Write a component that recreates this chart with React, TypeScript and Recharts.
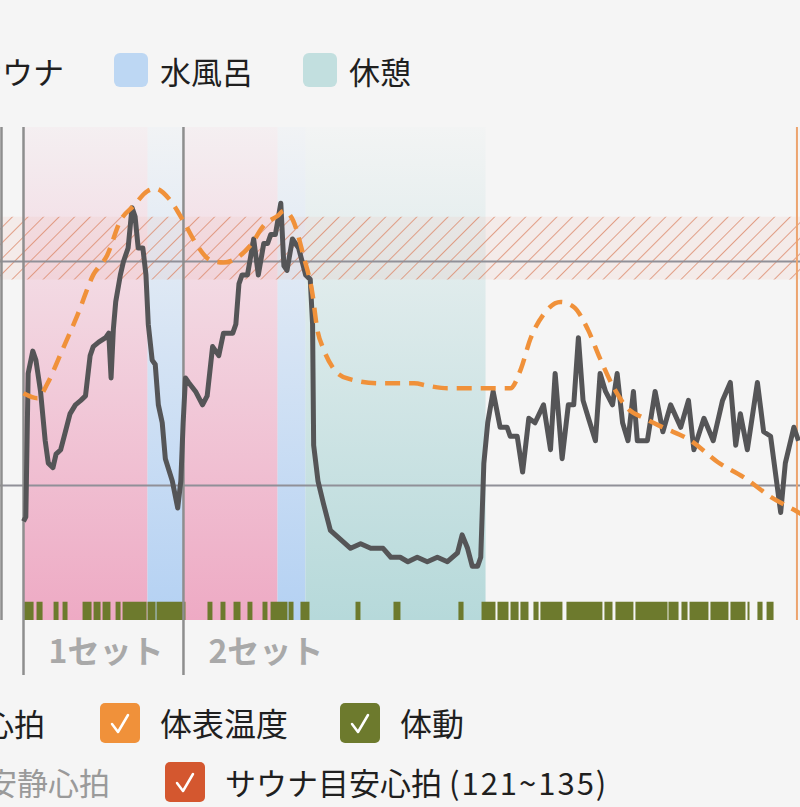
import React from 'react';
import { ComposedChart, Line, XAxis, YAxis, ReferenceArea, ReferenceLine } from 'recharts';

const FONT = "'Noto Sans CJK JP', 'Noto Sans', sans-serif";

// time in minutes from start of set 1
const phases = [
  { kind: 'sauna', start: 0, end: 8.0 },
  { kind: 'water', start: 8.0, end: 10.32 },
  { kind: 'sauna', start: 10.32, end: 16.39 },
  { kind: 'water', start: 16.39, end: 18.19 },
  { kind: 'rest', start: 18.19, end: 29.81 },
];

const setStarts = [0, 10.32];
const setLabels = ['1セット', '2セット'];
const prevMarker = -1.42;
const nowMarker = 49.9;

const gridLines = [75, 125];
const saunaTarget = [121, 135];

const heartRate: [number, number][] = [
  [0, 67], [0.15, 68], [0.3, 100], [0.6, 105], [0.8, 103], [1.1, 96], [1.4, 85], [1.6, 80],
  [1.9, 79], [2.1, 82], [2.4, 83], [2.7, 87], [3.0, 91], [3.35, 93], [3.7, 94], [4.0, 95],
  [4.3, 104], [4.5, 106], [4.85, 107], [5.3, 108], [5.5, 109], [5.65, 99], [5.8, 110],
  [5.95, 116], [6.25, 122], [6.45, 125], [6.75, 128], [7.0, 137], [7.2, 135], [7.4, 128],
  [7.7, 128], [7.9, 122], [8.05, 111], [8.3, 103], [8.5, 102], [8.7, 93], [8.95, 89],
  [9.15, 81], [9.6, 76], [9.95, 70], [10.15, 76], [10.3, 89], [10.45, 99], [10.65, 98],
  [11.1, 96], [11.55, 93], [11.85, 95], [12.2, 106], [12.6, 104], [12.9, 109], [13.5, 109],
  [13.7, 111], [13.9, 120], [14.1, 122], [14.45, 122], [14.85, 130], [15.15, 122],
  [15.5, 129], [15.75, 129], [15.95, 131], [16.25, 131], [16.6, 138], [16.8, 124],
  [17.0, 123], [17.35, 130], [17.75, 128], [18.2, 122], [18.5, 121], [18.65, 111],
  [18.72, 84], [19.0, 76], [19.35, 71], [19.8, 65], [20.45, 63], [21.1, 61], [21.75, 62],
  [22.4, 61], [23.2, 61], [23.7, 59], [24.3, 59], [24.8, 58], [25.4, 59], [26.05, 58],
  [26.7, 59], [27.35, 58], [28.0, 60], [28.3, 64], [28.65, 61], [28.95, 57], [29.3, 57],
  [29.5, 59], [29.7, 80], [29.95, 89], [30.3, 96], [30.75, 88], [31.2, 88], [31.4, 86],
  [31.85, 86], [32.2, 78], [32.6, 90], [33.0, 89], [33.55, 93], [34.0, 83], [34.3, 100],
  [34.75, 81], [35.15, 93], [35.5, 93], [35.8, 108], [36.1, 94], [36.45, 90], [36.9, 85],
  [37.2, 100], [37.55, 96], [38.0, 93], [38.3, 100], [38.65, 89], [39.0, 85], [39.35, 96],
  [39.6, 85], [40.25, 85], [40.75, 96], [41.25, 87], [41.75, 93], [42.4, 88], [42.9, 94],
  [43.25, 83], [43.9, 90], [44.5, 85], [45.1, 94], [45.6, 98], [45.95, 84], [46.25, 91],
  [46.7, 83], [47.35, 98], [47.75, 87], [48.2, 86], [48.85, 69], [49.15, 80], [49.7, 88],
  [50.0, 85],
];

const skinTemp: [number, number][] = [
  [0, 34.6], [0.9, 34.5], [1.55, 34.8], [2.4, 35.4], [3.5, 36.2], [4.5, 37.0], [5.4, 37.4],
  [6.25, 38.1], [7.1, 38.4], [8.0, 38.7], [8.5, 38.75], [9.5, 38.5], [10.3, 38.1],
  [11.2, 37.6], [12.05, 37.3], [12.9, 37.25], [13.8, 37.35], [14.65, 37.6], [15.5, 38.0],
  [16.4, 38.2], [16.8, 38.3], [17.4, 38.1], [18.05, 37.4], [18.65, 36.6], [18.95, 35.9],
  [19.35, 35.5], [20.0, 35.1], [20.9, 34.9], [23.0, 34.8], [25.2, 34.8], [26.1, 34.75],
  [27.35, 34.7], [29.5, 34.7], [30.8, 34.7], [31.4, 34.7], [32.1, 35.1], [32.7, 35.7],
  [33.55, 36.2], [34.65, 36.45], [35.5, 36.35], [36.4, 35.9], [37.2, 35.3], [38.1, 34.7],
  [38.95, 34.3], [40.0, 34.1], [41.3, 33.9], [43.0, 33.65], [44.8, 33.2], [46.45, 32.9],
  [48.2, 32.5], [49.9, 32.2], [51.0, 32.0],
];

// periods where body movement was detected [from, to]
const movement: [number, number][] = [
  [0, 0.65], [0.84, 1.23], [1.94, 2.26], [2.52, 2.84], [3.81, 4.39], [4.52, 4.97],
  [5.1, 5.61], [5.94, 6.26], [6.39, 7.94], [8.0, 8.52], [8.58, 10.45], [11.87, 12.19],
  [12.71, 13.03], [13.55, 14.0], [14.45, 14.77], [15.42, 15.74], [15.94, 17.03],
  [17.1, 17.42], [17.87, 18.45], [21.42, 21.74], [23.87, 24.32], [28.06, 28.39],
  [29.55, 30.45], [30.58, 31.29], [31.42, 31.94], [32.06, 32.58], [32.9, 33.23],
  [33.35, 34.77], [35.03, 37.35], [37.48, 38.0], [38.19, 39.35], [39.48, 41.55],
  [41.61, 42.26], [42.45, 42.84], [42.97, 44.19], [44.32, 45.48], [45.61, 46.58],
  [46.71, 46.84], [47.35, 47.68], [47.94, 48.39],
];

const hrData = heartRate.map(([t, v]) => ({ t, hr: v }));
const tempData = skinTemp.map(([t, v]) => ({ t, temp: v }));

const phaseFill: Record<string, string> = {
  sauna: 'url(#gSauna)',
  water: 'url(#gWater)',
  rest: 'url(#gRest)',
};

const SetTick = (props: any) => {
  const { x, y, index } = props;
  return (
    <g>
      <line x1={x} x2={x} y1={y} y2={y + 55} stroke="#8e8e8e" strokeWidth={2.5} />
      <text x={x + 25} y={y + 43} fill="#a9a9a9" fontSize={32} fontWeight="bold" fontFamily={FONT}>
        {setLabels[index]}
      </text>
    </g>
  );
};

const Check = ({ color }: { color: string }) => (
  <svg width={40} height={40} style={{ display: 'block' }}>
    <rect width={40} height={40} rx={5} fill={color} />
    <polyline points="12,21 18,29 28,12" fill="none" stroke="#fff" strokeWidth={2.5} strokeLinecap="round" strokeLinejoin="round" />
  </svg>
);

const Label = ({ left, top, text, color = '#1f1f1f', size = 31 }: any) => (
  <div style={{ position: 'absolute', left, top, height: 40, display: 'flex', alignItems: 'center', fontSize: size, lineHeight: 1, color, whiteSpace: 'pre' }}>
    {text}
  </div>
);

export default function App() {
  return (
    <div style={{ position: 'absolute', left: 0, top: 0, width: 800, height: 807, overflow: 'hidden', background: '#f5f5f5', fontFamily: FONT }}>
      {/* phase legend */}
      <Label left={-29} top={50} text="サウナ" />
      <div style={{ position: 'absolute', left: 114, top: 53, width: 34, height: 34, borderRadius: 6, background: '#bdd7f3' }} />
      <Label left={160} top={50} text="水風呂" />
      <div style={{ position: 'absolute', left: 303, top: 53, width: 34, height: 34, borderRadius: 6, background: '#c2dfdf' }} />
      <Label left={349} top={50} text="休憩" />

      <div style={{ position: 'absolute', left: -54.5, top: 127 }}>
        <ComposedChart width={930} height={553} margin={{ top: 0, right: 0, bottom: 0, left: 0 }}>
          <defs>
            <linearGradient id="gSauna" x1="0" y1="0" x2="0" y2="1">
              <stop offset="0%" stopColor="#eeaac4" stopOpacity={0.08} />
              <stop offset="100%" stopColor="#eeaac4" stopOpacity={1} />
            </linearGradient>
            <linearGradient id="gWater" x1="0" y1="0" x2="0" y2="1">
              <stop offset="0%" stopColor="#b4d1f3" stopOpacity={0.06} />
              <stop offset="100%" stopColor="#b4d1f3" stopOpacity={1} />
            </linearGradient>
            <linearGradient id="gRest" x1="0" y1="0" x2="0" y2="1">
              <stop offset="0%" stopColor="#b6d9da" stopOpacity={0.04} />
              <stop offset="100%" stopColor="#b6d9da" stopOpacity={1} />
            </linearGradient>
            <pattern id="hatch" patternUnits="userSpaceOnUse" width="11" height="11" patternTransform="rotate(45)">
              <rect width="11" height="11" fill="#f0b8a6" fillOpacity={0.16} />
              <line x1="0" y1="0" x2="0" y2="11" stroke="#dc8a6c" strokeWidth={1.6} />
            </pattern>
          </defs>
          <XAxis
            dataKey="t"
            type="number"
            domain={[-5, 55]}
            allowDataOverflow
            ticks={setStarts}
            tick={<SetTick />}
            tickSize={0}
            tickMargin={0}
            axisLine={false}
            tickLine={false}
            height={60}
            interval={0}
          />
          <YAxis yAxisId="hr" hide type="number" domain={[45, 155]} allowDataOverflow />
          <YAxis yAxisId="tmp" hide type="number" domain={[30, 40]} allowDataOverflow />
          <YAxis yAxisId="mv" hide type="number" domain={[0, 27]} allowDataOverflow />

          {phases.map((p, i) => (
            <ReferenceArea key={'p' + i} yAxisId="hr" x1={p.start} x2={p.end} y1={45} y2={155}
              fill={phaseFill[p.kind]} fillOpacity={1} stroke="none" />
          ))}
          <ReferenceArea yAxisId="hr" y1={saunaTarget[0]} y2={saunaTarget[1]} fill="url(#hatch)" fillOpacity={1} stroke="none" />
          {gridLines.map((g) => (
            <ReferenceLine key={'g' + g} yAxisId="hr" y={g} stroke="#909098" strokeWidth={2} />
          ))}
          <ReferenceLine yAxisId="hr" x={prevMarker} stroke="#8e8e8e" strokeWidth={2.5} />
          {setStarts.map((s) => (
            <ReferenceLine key={'s' + s} yAxisId="hr" x={s} stroke="#8e8e8e" strokeWidth={2.5} />
          ))}
          <ReferenceLine yAxisId="hr" x={nowMarker} stroke="#eda46e" strokeWidth={2} />
          {movement.map(([a, b], i) => (
            <ReferenceArea key={'m' + i} yAxisId="mv" x1={a} x2={b} y1={0} y2={1}
              fill="#6d7a2d" fillOpacity={1} stroke="none" />
          ))}

          <Line yAxisId="hr" data={hrData} dataKey="hr" type="linear" stroke="#555557" strokeWidth={5}
            dot={false} isAnimationActive={false} strokeLinejoin="round" />
          <Line yAxisId="tmp" data={tempData} dataKey="temp" type="monotone" stroke="#f0913a" strokeWidth={4.5}
            strokeDasharray="15 9" dot={false} isAnimationActive={false} />
        </ComposedChart>
      </div>

      {/* series toggles */}
      <Label left={-17} top={702} text="心拍" />
      <div style={{ position: 'absolute', left: 100, top: 703 }}><Check color="#f0913a" /></div>
      <Label left={160} top={702} text="体表温度" size={32} />
      <div style={{ position: 'absolute', left: 340, top: 703 }}><Check color="#6d7a2d" /></div>
      <Label left={400} top={702} text="体動" size={32} />
      <Label left={-14} top={761} text="安静心拍" color="#9a9a9a" />
      <div style={{ position: 'absolute', left: 165, top: 762 }}><Check color="#d4572f" /></div>
      <Label left={225} top={761} text={<>{'サウナ目安心拍\u00a0'}<span style={{ letterSpacing: 2 }}>(121~135)</span></>} />
    </div>
  );
}
